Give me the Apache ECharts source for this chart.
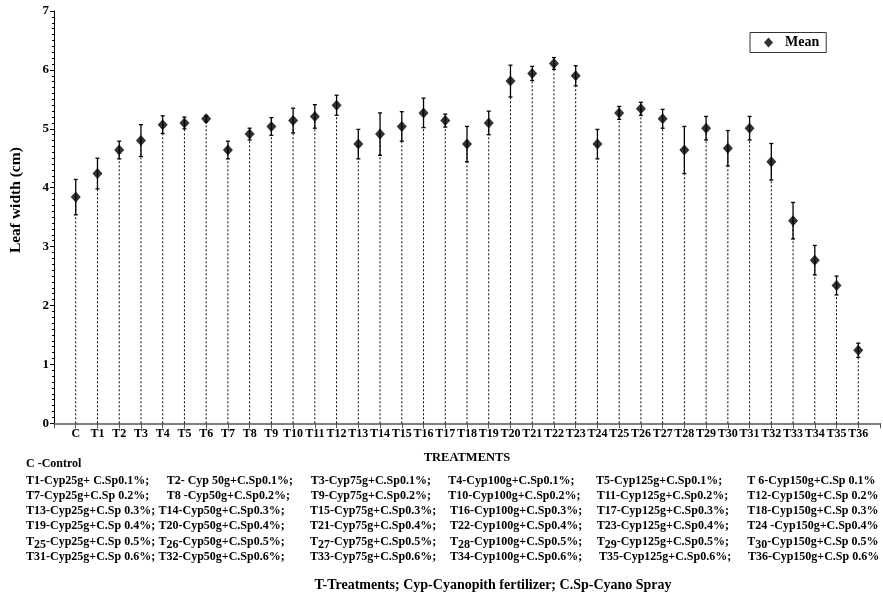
<!DOCTYPE html>
<html>
<head>
<meta charset="utf-8">
<script src="https://cdn.jsdelivr.net/npm/echarts@6/dist/echarts.min.js"></script>
<style>html,body{margin:0;padding:0;background:#fff}#c{width:883px;height:600px}</style>
</head>
<body>
<div id="c"></div>
<script>
// ---- data ----
const categories = ['C','T1','T2','T3','T4','T5','T6','T7','T8','T9','T10','T11','T12','T13','T14','T15','T16','T17','T18','T19','T20','T21','T22','T23','T24','T25','T26','T27','T28','T29','T30','T31','T32','T33','T34','T35','T36'];
const meanValues = [3.84,4.24,4.64,4.80,5.07,5.10,5.17,4.64,4.91,5.04,5.14,5.21,5.40,4.74,4.91,5.04,5.27,5.14,4.74,5.10,5.81,5.94,6.11,5.90,4.74,5.27,5.34,5.17,4.64,5.01,4.67,5.01,4.44,3.44,2.77,2.34,1.24];
const errValues  = [0.30,0.26,0.15,0.27,0.15,0.10,0.05,0.15,0.10,0.15,0.21,0.20,0.17,0.25,0.36,0.25,0.25,0.11,0.30,0.20,0.27,0.12,0.10,0.17,0.25,0.11,0.11,0.16,0.40,0.20,0.30,0.20,0.31,0.31,0.25,0.16,0.12];
const yTicks = [0,1,2,3,4,5,6,7];
const footTitle = 'C -Control';
const footRows = [
  ['T1-Cyp25g+ C.Sp0.1%;','T2- Cyp 50g+C.Sp0.1%;','T3-Cyp75g+C.Sp0.1%;','T4-Cyp100g+C.Sp0.1%;','T5-Cyp125g+C.Sp0.1%;','T 6-Cyp150g+C.Sp 0.1%'],
  ['T7-Cyp25g+C.Sp 0.2%;','T8 -Cyp50g+C.Sp0.2%;','T9-Cyp75g+C.Sp0.2%;','T10-Cyp100g+C.Sp0.2%;','T11-Cyp125g+C.Sp0.2%;','T12-Cyp150g+C.Sp 0.2%'],
  ['T13-Cyp25g+C.Sp 0.3%;','T14-Cyp50g+C.Sp0.3%;','T15-Cyp75g+C.Sp0.3%;','T16-Cyp100g+C.Sp0.3%;','T17-Cyp125g+C.Sp0.3%;','T18-Cyp150g+C.Sp 0.3%'],
  ['T19-Cyp25g+C.Sp 0.4%;','T20-Cyp50g+C.Sp0.4%;','T21-Cyp75g+C.Sp0.4%;','T22-Cyp100g+C.Sp0.4%;','T23-Cyp125g+C.Sp0.4%;','T24 -Cyp150g+C.Sp0.4%'],
  ['{m|T}{s|25}{m|-Cyp25g+C.Sp 0.5%;}','{m|T}{s|26}{m|-Cyp50g+C.Sp0.5%;}','{m|T}{s|27}{m|-Cyp75g+C.Sp0.5%;}','{m|T}{s|28}{m|-Cyp100g+C.Sp0.5%;}','{m|T}{s|29}{m|-Cyp125g+C.Sp0.5%;}','{m|T}{s|30}{m|-Cyp150g+C.Sp 0.5%}'],
  ['T31-Cyp25g+C.Sp 0.6%;','T32-Cyp50g+C.Sp0.6%;','T33-Cyp75g+C.Sp0.6%;','T34-Cyp100g+C.Sp0.6%;','T35-Cyp125g+C.Sp0.6%;','T36-Cyp150g+C.Sp 0.6%']
];
const footNote = 'T-Treatments; Cyp-Cyanopith fertilizer; C.Sp-Cyano Spray';

// ---- layout / style ----
const FONT = '"Liberation Serif","Times New Roman",serif';
const colX = [
  [26,166.7,310.7,448.3,596,747.3],
  [26,166.7,310.7,448.3,596.7,747.3],
  [26,158.5,310,450,596.7,747.3],
  [26,158.5,310,450,596.7,747.3],
  [26,158.5,310,450,596.7,747.3],
  [26,158.5,310,450,599,748]
];
const rowY0 = 480.7, rowDY = 15.2;

const pts = categories.map((c,i)=>[i, meanValues[i], errValues[i]]);

const graphics = [];
graphics.push({type:'text', x:26, y:464, style:{text:footTitle, font:'bold 12px '+FONT, fill:'#000', textVerticalAlign:'middle'}});
footRows.forEach((row,r)=>{
  row.forEach((t,k)=>{
    const isRich = t.indexOf('{m|')===0;
    const st = {text:t, font:'bold 12px '+FONT, fill:'#000', textVerticalAlign:'middle'};
    if (isRich) {
      st.rich = {m:{font:'bold 12px '+FONT, fill:'#000', lineHeight:18, verticalAlign:'middle'},
                 s:{font:'bold 12px '+FONT, fill:'#000', lineHeight:18, verticalAlign:'bottom'}};
    }
    graphics.push({type:'text', x:colX[r][k], y:rowY0 + r*rowDY, style:st});
  });
});
graphics.push({type:'text', x:493, y:585.7, style:{text:footNote, font:'bold 14px '+FONT, fill:'#000', textAlign:'center', textVerticalAlign:'middle'}});

const chart = echarts.init(document.getElementById('c'), null, {renderer:'canvas'});
chart.setOption({
  backgroundColor:'#fff',
  animation:false,
  grid:{left:54, right:0, top:11, bottom:176.7, containLabel:false},
  legend:{
    data:[{name:'Mean', icon:'diamond'}],
    left:750, top:32.5,
    itemWidth:9, itemHeight:10,
    padding:[3,7,3,14],
    itemGap:0,
    borderColor:'#333', borderWidth:1,
    textStyle:{fontFamily:FONT, fontWeight:'bold', fontSize:14, color:'#000', padding:[0,0,0,7]}
  },
  xAxis:{
    type:'value', min:-1, max:37, interval:1,
    name:'TREATMENTS', nameLocation:'middle', nameGap:28,
    nameTextStyle:{fontFamily:FONT, fontWeight:'bold', fontSize:12.5, color:'#000'},
    axisLine:{show:true, onZero:false, lineStyle:{color:'#555', width:1.5}},
    axisTick:{show:true, inside:false, length:5, lineStyle:{color:'#555', width:1}},
    axisLabel:{show:true, margin:5, fontFamily:FONT, fontWeight:'bold', fontSize:12, color:'#000',
      formatter:v=> (v>=0 && v<categories.length) ? categories[v] : ''},
    splitLine:{show:false}
  },
  yAxis:{
    type:'value', min:yTicks[0], max:yTicks[yTicks.length-1], interval:1,
    name:'Leaf width (cm)', nameLocation:'middle', nameGap:30,
    nameTextStyle:{fontFamily:FONT, fontWeight:'bold', fontSize:15.5, color:'#000', padding:[0,0,0,34]},
    axisLine:{show:true, onZero:false, lineStyle:{color:'#000', width:1}},
    axisTick:{show:true, length:4, lineStyle:{color:'#000', width:1}},
    minorTick:{show:true, splitNumber:10, length:2, lineStyle:{color:'#000', width:1}},
    axisLabel:{margin:5, fontFamily:FONT, fontWeight:'bold', fontSize:13, color:'#000'},
    splitLine:{show:false}
  },
  series:[
    {
      name:'drop', type:'custom', silent:true, z:1,
      data:pts,
      renderItem:(params, api)=>{
        const a = api.coord([api.value(0), 0]);
        const b = api.coord([api.value(0), api.value(1)]);
        return {type:'line', shape:{x1:a[0], y1:a[1], x2:b[0], y2:b[1]},
                style:{stroke:'#000', lineWidth:1, lineDash:[2,2]}};
      }
    },
    {
      name:'err', type:'custom', silent:true, z:2,
      data:pts,
      renderItem:(params, api)=>{
        const x = api.value(0), m = api.value(1), e = api.value(2);
        const hi = api.coord([x, m+e]), lo = api.coord([x, m-e]);
        const w = 2;
        const st = {stroke:'#000', lineWidth:1.3};
        return {type:'group', children:[
          {type:'line', shape:{x1:hi[0], y1:hi[1], x2:lo[0], y2:lo[1]}, style:st},
          {type:'line', shape:{x1:hi[0]-w, y1:hi[1], x2:hi[0]+w, y2:hi[1]}, style:st},
          {type:'line', shape:{x1:lo[0]-w, y1:lo[1], x2:lo[0]+w, y2:lo[1]}, style:st}
        ]};
      }
    },
    {
      name:'Mean', type:'scatter', z:3,
      symbol:'diamond', symbolSize:[10,11],
      itemStyle:{color:'#000'},
      data:pts.map(p=>[p[0],p[1]])
    }
  ],
  graphic:graphics
});
</script>
</body>
</html>
